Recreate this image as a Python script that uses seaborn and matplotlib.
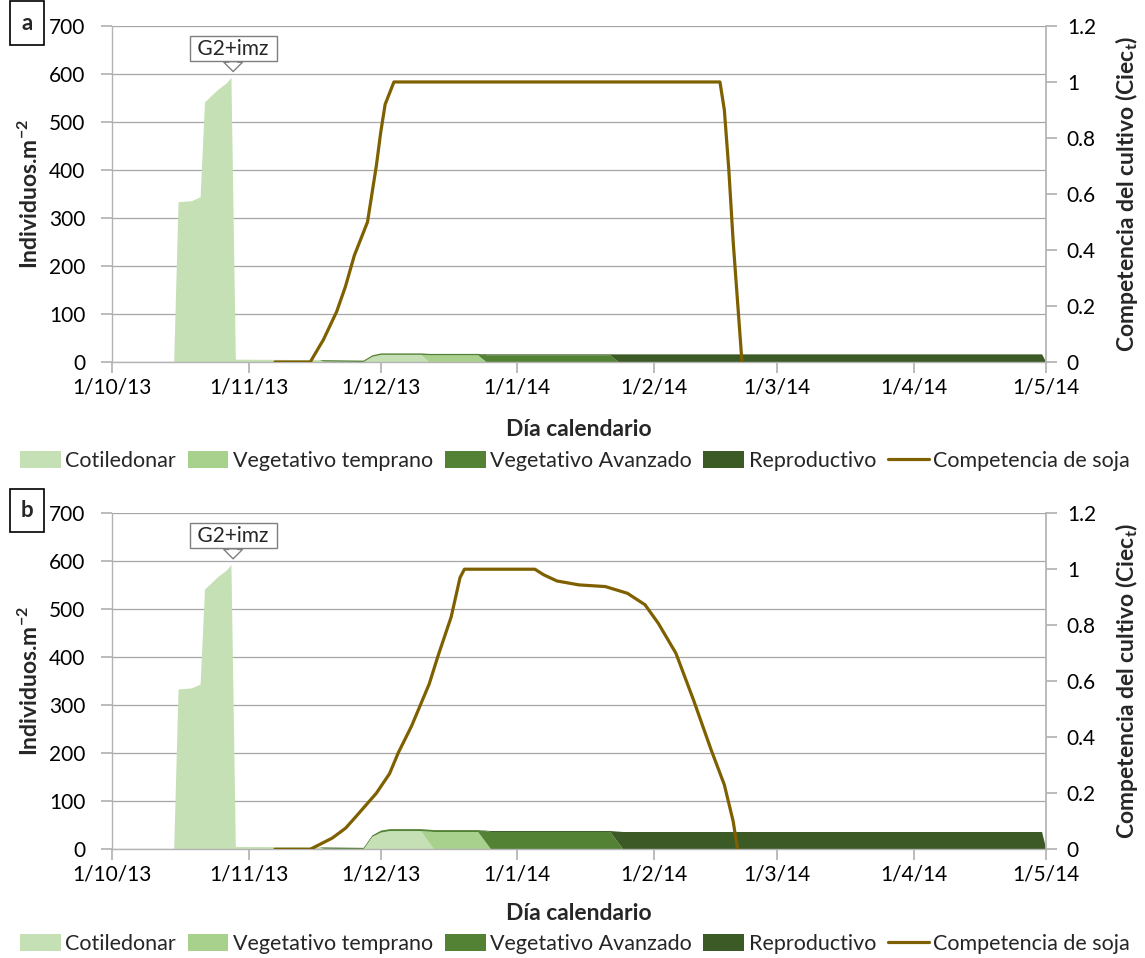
import pandas as pd
import matplotlib
matplotlib.use("Agg")
import matplotlib.pyplot as plt
import matplotlib.dates as mdates
from matplotlib.patches import Patch
from matplotlib.lines import Line2D
from matplotlib.ticker import FuncFormatter, MultipleLocator
import seaborn as sns

# --- datos ---
# panel a: individuos por estado (areas apiladas)
fechas_a = ["2013-10-15", "2013-10-16", "2013-10-19", "2013-10-21", "2013-10-22",
            "2013-10-25", "2013-10-27", "2013-10-28", "2013-10-29", "2013-11-17",
            "2013-11-18", "2013-11-27", "2013-11-29", "2013-12-01", "2013-12-10",
            "2013-12-12", "2013-12-23", "2013-12-25", "2014-01-22", "2014-01-24",
            "2014-04-30", "2014-05-01"]
cotiledonar_a = [0, 334, 336, 344, 542, 568, 582, 593, 6, 5, 2, 1, 12, 16, 16, 0, 0, 0, 0, 0, 0, 0]
temprano_a = [0, 0, 0, 0, 0, 0, 0, 0, 0, 0, 0, 0, 0, 0, 0, 15, 15, 0, 0, 0, 0, 0]
avanzado_a = [0, 0, 0, 0, 0, 0, 0, 0, 0, 0, 3, 3, 3, 3, 3, 3, 3, 15, 15, 0, 0, 0]
reproductivo_a = [0, 0, 0, 0, 0, 0, 0, 0, 0, 0, 0, 0, 0, 0, 0, 0, 0, 2, 2, 17, 17, 0]

# panel a: competencia de soja (Ciec_t)
comp_fechas_a = ["2013-11-07", "2013-11-15", "2013-11-18", "2013-11-21", "2013-11-23",
                 "2013-11-25", "2013-11-28", "2013-11-29", "2013-11-30", "2013-12-01",
                 "2013-12-02", "2013-12-04", "2014-02-16", "2014-02-17", "2014-02-18",
                 "2014-02-19", "2014-02-21"]
competencia_a = [0, 0, 0.08, 0.18, 0.27, 0.38, 0.50, 0.60, 0.70, 0.82,
                 0.92, 1.0, 1.0, 0.9, 0.69, 0.43, 0]

# panel b: individuos por estado
fechas_b = ["2013-10-15", "2013-10-16", "2013-10-19", "2013-10-21", "2013-10-22",
            "2013-10-25", "2013-10-27", "2013-10-28", "2013-10-29", "2013-11-17",
            "2013-11-18", "2013-11-27", "2013-11-29", "2013-12-01", "2013-12-03",
            "2013-12-10", "2013-12-13", "2013-12-23", "2013-12-26", "2014-01-22",
            "2014-01-25", "2014-04-30", "2014-05-01"]
cotiledonar_b = [0, 334, 336, 344, 542, 568, 582, 593, 6, 5, 2, 1, 27, 36, 39, 39, 0, 0, 0, 0, 0, 0, 0]
temprano_b = [0, 0, 0, 0, 0, 0, 0, 0, 0, 0, 0, 0, 0, 0, 0, 0, 37, 37, 0, 0, 0, 0, 0]
avanzado_b = [0, 0, 0, 0, 0, 0, 0, 0, 0, 0, 3, 3, 3, 4, 4, 4, 4, 4, 37, 37, 0, 0, 0]
reproductivo_b = [0, 0, 0, 0, 0, 0, 0, 0, 0, 0, 0, 0, 0, 0, 0, 0, 0, 0, 2, 2, 37, 37, 0]

# panel b: competencia de soja
comp_fechas_b = ["2013-11-07", "2013-11-15", "2013-11-20", "2013-11-23", "2013-11-25",
                 "2013-11-27", "2013-11-30", "2013-12-03", "2013-12-05", "2013-12-08",
                 "2013-12-10", "2013-12-12", "2013-12-14", "2013-12-17", "2013-12-19",
                 "2013-12-20", "2014-01-05", "2014-01-07", "2014-01-10", "2014-01-15",
                 "2014-01-21", "2014-01-26", "2014-01-30", "2014-02-02", "2014-02-06",
                 "2014-02-10", "2014-02-14", "2014-02-17", "2014-02-19", "2014-02-20"]
competencia_b = [0, 0, 0.04, 0.075, 0.11, 0.146, 0.20, 0.27, 0.345, 0.44,
                 0.515, 0.59, 0.69, 0.83, 0.97, 1.0, 1.0, 0.98, 0.958, 0.944,
                 0.938, 0.914, 0.873, 0.807, 0.70, 0.533, 0.355, 0.23, 0.10, 0]

meses = ["2013-10-01", "2013-11-01", "2013-12-01", "2014-01-01", "2014-02-01",
         "2014-03-01", "2014-04-01", "2014-05-01"]
estados = ["Cotiledonar", "Vegetativo temprano", "Vegetativo Avanzado", "Reproductivo"]
colores = ["#c5e0b4", "#a9d18e", "#548235", "#3b5a25"]
color_soja = "#7f6000"
herbicida = ("2013-10-28 12:00", "G2+imz")

sns.set_theme(style="white")
plt.rcParams["font.family"] = ["Lato", "DejaVu Sans"]
plt.rcParams["mathtext.fontset"] = "custom"
plt.rcParams["mathtext.bf"] = "Lato:bold"
plt.rcParams["mathtext.it"] = "Lato:bold:italic"
plt.rcParams["mathtext.rm"] = "Lato"

gris = "#b3b3b3"
fs = 15
fs_titulo = 16.5

fig = plt.figure(figsize=(11.45, 9.58), dpi=100)


def panel(pos, fechas, capas, comp_fechas, comp, letra, y_leyenda, y_xlabel):
    ax = fig.add_axes(pos)
    x = pd.to_datetime(fechas)
    ax.stackplot(x, *capas, colors=colores, linewidth=0)
    ax.set_xlim(pd.Timestamp(meses[0]), pd.Timestamp(meses[-1]))
    ax.set_ylim(0, 700)
    ax.yaxis.set_major_locator(MultipleLocator(100))
    ax.set_xticks(pd.to_datetime(meses))
    ax.xaxis.set_major_formatter(FuncFormatter(
        lambda v, p: (lambda d: f"{d.day}/{d.month}/{d.year % 100}")(mdates.num2date(v))))
    ax.grid(axis="y", color="#a6a6a6", lw=0.9)
    ax.grid(axis="x", visible=False)
    ax.set_axisbelow(True)
    for s in ["top", "right"]:
        ax.spines[s].set_visible(False)
    for s in ["left", "bottom"]:
        ax.spines[s].set_color(gris)
        ax.spines[s].set_linewidth(1)
    ax.tick_params(axis="x", direction="out", length=8, color=gris, labelsize=fs, pad=3,
                   bottom=True, labelcolor="black")
    ax.tick_params(axis="y", direction="out", length=8, color=gris, labelsize=fs, pad=11,
                   left=True, labelcolor="black")

    ax2 = ax.twinx()
    sns.lineplot(x=pd.to_datetime(comp_fechas), y=comp, ax=ax2, color=color_soja,
                 linewidth=2.3, legend=False)
    ax2.set_ylim(0, 1.2)
    ax2.yaxis.set_major_locator(MultipleLocator(0.2))
    ax2.yaxis.set_major_formatter(FuncFormatter(lambda v, p: f"{v:g}"))
    ax2.set_ylabel("")
    ax2.grid(False)
    for s in ["top", "left", "bottom"]:
        ax2.spines[s].set_visible(False)
    ax2.spines["right"].set_color(gris)
    ax2.tick_params(axis="y", direction="out", length=8, color=gris, labelsize=fs, pad=7,
                    right=True, labelcolor="black")

    # flecha de aplicacion de herbicida
    ax.annotate(" " + herbicida[1] + " ", xy=(pd.Timestamp(herbicida[0]), 605),
                xytext=(pd.Timestamp(herbicida[0]), 653), ha="center", va="center",
                fontsize=fs, zorder=5,
                bbox=dict(boxstyle="square,pad=0.12", fc="white", ec="#7f7f7f", lw=1),
                arrowprops=dict(arrowstyle="simple,head_length=0.45,head_width=0.9,tail_width=0.45",
                                fc="white", ec="#7f7f7f", lw=1, shrinkA=0, shrinkB=0))

    fig.text(27 / 1145, pos[1] + pos[3] + 0.003, letra, fontsize=16, fontweight="bold",
             ha="center", va="center",
             bbox=dict(boxstyle="square,pad=0.5", fc="white", ec="black", lw=1.2))
    yc = pos[1] + pos[3] / 2
    fig.text(30 / 1145, yc, r"Individuos.m$^{\mathbf{-2}}$", rotation=90, fontsize=fs_titulo,
             fontweight="bold", ha="center", va="center")
    fig.text(1126 / 1145, yc, r"Competencia del cultivo (Ciec$_{\mathbf{t}}$)", rotation=90,
             fontsize=fs_titulo, fontweight="bold", ha="center", va="center")
    fig.text(579 / 1145, y_xlabel, "Día calendario", fontsize=fs_titulo, fontweight="bold",
             ha="center", va="center")

    handles = [Patch(facecolor=c, edgecolor="none") for c in colores]
    handles.append(Line2D([0], [0], color=color_soja, lw=2.3))
    ax.legend(handles, estados + ["Competencia de soja"], loc="center",
              bbox_to_anchor=(0.502, y_leyenda), bbox_transform=fig.transFigure,
              ncol=5, frameon=False, fontsize=15.5, handlelength=1.9, handleheight=0.8,
              handletextpad=0.2, columnspacing=0.55, borderpad=0)
    return ax


panel([0.0978, 0.6221, 0.8157, 0.3508],
      fechas_a, [cotiledonar_a, temprano_a, avanzado_a, reproductivo_a],
      comp_fechas_a, competencia_a, "a", 1 - 461 / 958, 1 - 429 / 958)
panel([0.0978, 0.1135, 0.8157, 0.3508],
      fechas_b, [cotiledonar_b, temprano_b, avanzado_b, reproductivo_b],
      comp_fechas_b, competencia_b, "b", 1 - 944 / 958, 1 - 913 / 958)

fig.savefig("out.png", dpi=100, facecolor="white")
